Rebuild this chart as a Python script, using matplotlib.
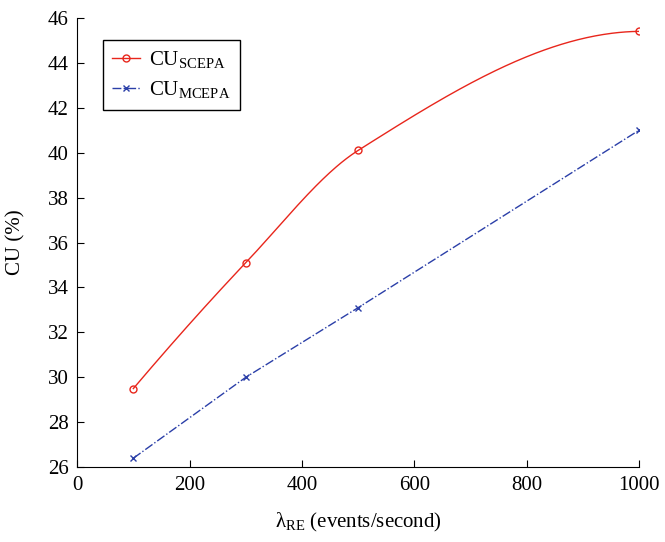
import numpy as np
import matplotlib
matplotlib.use('Agg')
import matplotlib.pyplot as plt

plt.rcParams['font.family'] = ['Liberation Serif', 'DejaVu Serif']
plt.rcParams['mathtext.fontset'] = 'custom'
plt.rcParams['mathtext.rm'] = 'Liberation Serif'

# data
lam = [100, 300, 500, 1000]
cu_scepa = [29.5, 35.1, 40.1, 45.4]
cu_mcepa = [26.4, 30.0, 33.1, 41.0]


# shape preserving (pchip) curve through the red points
def pchip(xp, yp, n=300):
    xp = np.asarray(xp, float)
    yp = np.asarray(yp, float)
    h = np.diff(xp)
    dl = np.diff(yp) / h
    k = len(xp)
    d = np.zeros(k)
    for i in range(1, k - 1):
        if dl[i - 1] * dl[i] > 0:
            w1 = 2 * h[i] + h[i - 1]
            w2 = h[i] + 2 * h[i - 1]
            d[i] = (w1 + w2) / (w1 / dl[i - 1] + w2 / dl[i])
    d[0] = ((2 * h[0] + h[1]) * dl[0] - h[0] * dl[1]) / (h[0] + h[1])
    if np.sign(d[0]) != np.sign(dl[0]):
        d[0] = 0
    d[-1] = ((2 * h[-1] + h[-2]) * dl[-1] - h[-1] * dl[-2]) / (h[-1] + h[-2])
    if np.sign(d[-1]) != np.sign(dl[-1]):
        d[-1] = 0
    xs = np.linspace(xp[0], xp[-1], n)
    idx = np.clip(np.searchsorted(xp, xs) - 1, 0, k - 2)
    t = (xs - xp[idx]) / h[idx]
    h00 = 2 * t ** 3 - 3 * t ** 2 + 1
    h10 = t ** 3 - 2 * t ** 2 + t
    h01 = -2 * t ** 3 + 3 * t ** 2
    h11 = t ** 3 - t ** 2
    ys = h00 * yp[idx] + h10 * h[idx] * d[idx] + h01 * yp[idx + 1] + h11 * h[idx] * d[idx + 1]
    return xs, ys


fig = plt.figure(figsize=(6.65, 5.42), dpi=100)
ax = fig.add_axes([0.116, 0.138, 0.845, 0.829])

red = '#e8261c'
blue = '#2b3fa8'
xs, ys = pchip(lam, cu_scepa)
ax.plot(xs, ys, color=red, lw=1.0)
ax.plot(lam, cu_scepa, 'o', color=red, mfc='none', ms=5, mew=1.0)
ax.plot([], [], '-o', color=red, mfc='none', ms=5, mew=1.0, lw=1.0, label=r'CU$_{\mathrm{SCEPA}}$')
ax.plot(lam, cu_mcepa, '-.x', color=blue, ms=4, mew=1.0, lw=1.0, label=r'CU$_{\mathrm{MCEPA}}$')

ax.set_xlim(0, 1000)
ax.set_ylim(26, 46)
ax.set_xticks(np.arange(0, 1001, 200))
ax.set_yticks(np.arange(26, 47, 2))
ax.spines['top'].set_visible(False)
ax.spines['right'].set_visible(False)
ax.tick_params(direction='in', labelsize=15, length=5, pad=6)
ax.set_xlabel('λ$_{\mathrm{RE}}$ (events/second)', fontsize=15, labelpad=12)
ax.set_ylabel('CU (%)', fontsize=15, labelpad=16)

leg = ax.legend(loc='upper left', bbox_to_anchor=(0.046, 0.951), borderaxespad=0, fontsize=15,
                fancybox=False, edgecolor='black', framealpha=1, handlelength=1.35,
                handletextpad=0.4, borderpad=0.45, labelspacing=0.4)
leg.get_frame().set_linewidth(1.0)

fig.savefig('out.png', dpi=100)
